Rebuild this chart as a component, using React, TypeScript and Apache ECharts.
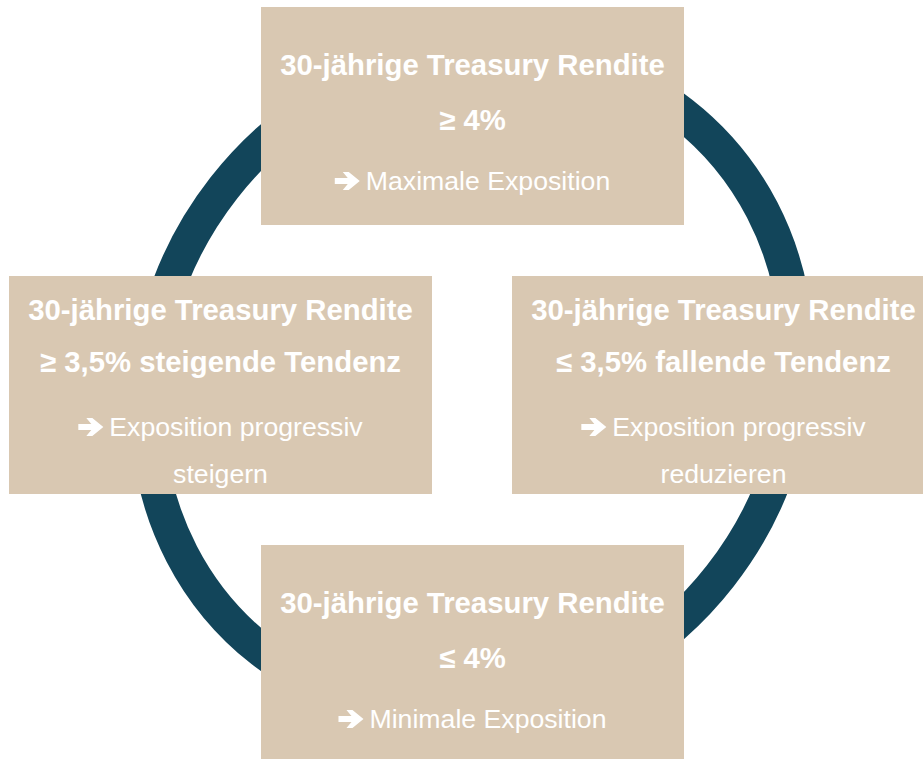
import React, { useEffect, useRef } from "react";
import * as echarts from "echarts";

// Diagram content
const titles = [
  "30-jährige Treasury Rendite",
  "30-jährige Treasury Rendite",
  "30-jährige Treasury Rendite",
  "30-jährige Treasury Rendite",
];
const conditions = [
  "≥ 4%",
  "≥ 3,5% steigende Tendenz",
  "≤ 3,5% fallende Tendenz",
  "≤ 4%",
];
const actions = [
  ["Maximale Exposition"],
  ["Exposition progressiv", "steigern"],
  ["Exposition progressiv", "reduzieren"],
  ["Minimale Exposition"],
];

const BOX_COLOR = "#D9C8B2";
const RING_COLOR = "#12455A";
const FONT = '"Liberation Sans", Arial, Helvetica, sans-serif';

// arrow glyph outline (relative units, left/centre origin)
const ARROW = [
  [0, -3],
  [13, -3],
  [8, -9],
  [14, -9],
  [25, 0],
  [14, 9],
  [8, 9],
  [13, 3],
  [0, 3],
];

export default function App() {
  const ref = useRef<HTMLDivElement>(null);

  useEffect(() => {
    document.body.style.margin = "0";
    if (!ref.current) return;
    const chart = echarts.init(ref.current, null, { renderer: "svg" });

    const boxPos = [
      { x: 261, y: 7 },
      { x: 9, y: 276 },
      { x: 512, y: 276 },
      { x: 261, y: 545 },
    ];
    const W = 423;
    const H = 218;
    const titleSize = 29.33;
    const bodySize = 26.67;

    const canvas = document.createElement("canvas");
    const ctx = canvas.getContext("2d")!;
    const measure = (t: string, f: string) => {
      ctx.font = f;
      return ctx.measureText(t).width;
    };

    const elements: any[] = [];
    elements.push({
      type: "ellipse",
      x: 472,
      y: 382,
      rotation: (52 * Math.PI) / 180,
      shape: { cx: 0, cy: 0, rx: 341, ry: 315 },
      style: { fill: "transparent", stroke: RING_COLOR, lineWidth: 34 },
      z: 1,
    });

    boxPos.forEach((p, i) => {
      elements.push({
        type: "rect",
        shape: { x: p.x, y: p.y, width: W, height: H },
        style: { fill: BOX_COLOR },
        z: 2,
      });
      const cx = p.x + W / 2;
      const acts = actions[i];
      const baselines =
        acts.length === 1 ? [68, 123, 183] : [44, 96, 160, 207];

      const addText = (t: string, bold: boolean, x: number, base: number, align: string) => {
        const size = bold ? titleSize : bodySize;
        elements.push({
          type: "text",
          x,
          y: base - 0.3465 * size,
          style: {
            text: t,
            fill: "#FFFFFF",
            font: `${bold ? "bold " : ""}${size}px ${FONT}`,
            align,
            verticalAlign: "middle",
          },
          z: 3,
        });
      };

      addText(titles[i], true, cx, p.y + baselines[0], "center");
      addText(conditions[i], true, cx, p.y + baselines[1], "center");

      // arrow + action text
      const bodyFont = `${bodySize}px ${FONT}`;
      const tw = measure(acts[0], bodyFont);
      const offset = 31;
      const start = cx - (offset + tw) / 2;
      const base = p.y + baselines[2];
      const yc = base - 9;
      elements.push({
        type: "polygon",
        shape: { points: ARROW.map(([ax, ay]) => [start + ax, yc + ay]) },
        style: { fill: "#FFFFFF" },
        z: 3,
      });
      addText(acts[0], false, start + offset, base, "left");
      if (acts.length > 1) addText(acts[1], false, cx, p.y + baselines[3], "center");
    });

    chart.setOption({
      animation: false,
      backgroundColor: "#FFFFFF",
      graphic: { elements },
    });

    return () => chart.dispose();
  }, []);

  return <div ref={ref} style={{ width: 923, height: 759 }} />;
}
